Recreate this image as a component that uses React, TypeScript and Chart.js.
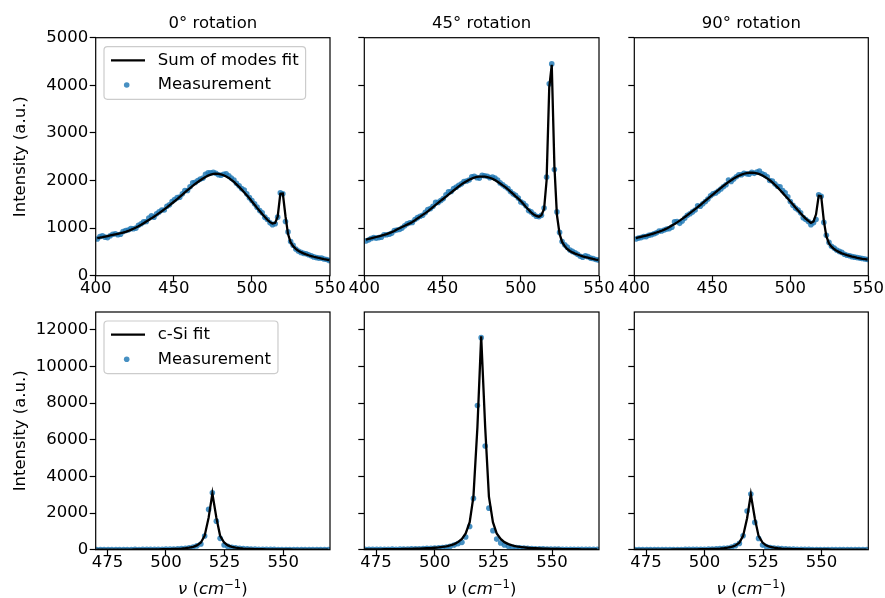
import React, { useEffect, useRef } from 'react';
import { Chart, registerables } from 'chart.js';
Chart.register(...registerables);

// ---------- DATA ----------
const COL_TITLES = ['0° rotation', '45° rotation', '90° rotation'];
const Y_TITLE = 'Intensity (a.u.)';
// x-axis label pieces: [text, italic, superscript]
const X_TITLE_PARTS: [string, boolean, boolean][] = [
  ['ν', true, false],
  [' (', false, false],
  ['cm', true, false],
  ['−1', false, true],
  [')', false, false],
];
const TOP_LEGEND = ['Sum of modes fit', 'Measurement'];
const BOT_LEGEND = ['c-Si fit', 'Measurement'];

const TOP_X_TICKS = [400, 450, 500, 550];
const TOP_Y_TICKS = [0, 1000, 2000, 3000, 4000, 5000];
const BOT_X_TICKS = [475, 500, 525, 550];
const BOT_Y_TICKS = [0, 2000, 4000, 6000, 8000, 10000, 12000];

const X_TOP = [
  401.0, 402.7, 404.3, 406.0, 407.6, 409.3, 410.9, 412.6, 414.2, 415.9,
  417.5, 419.2, 420.8, 422.5, 424.1, 425.8, 427.4, 429.1, 430.7, 432.4,
  434.0, 435.7, 437.3, 439.0, 440.6, 442.3, 443.9, 445.6, 447.2, 448.9,
  450.5, 452.2, 453.8, 455.5, 457.1, 458.8, 460.4, 462.1, 463.7, 465.4,
  467.0, 468.7, 470.3, 472.0, 473.6, 475.3, 476.9, 478.6, 480.2, 481.9,
  483.5, 485.2, 486.8, 488.5, 490.1, 491.8, 493.4, 495.1, 496.7, 498.4,
  500.0, 501.7, 503.3, 505.0, 506.6, 508.3, 509.9, 511.6, 513.2, 514.9,
  516.5, 518.2, 519.8, 521.5, 523.1, 524.8, 526.4, 528.1, 529.7, 531.4,
  533.0, 534.7, 536.3, 538.0, 539.6, 541.3, 542.9, 544.6, 546.2, 547.9,
  549.5,
];

const FIT_TOP_0 = [
  787, 800, 810, 822, 833, 845, 856, 868, 880, 893,
  907, 922, 940, 963, 987, 1012, 1040, 1072, 1104, 1138,
  1170, 1205, 1240, 1277, 1315, 1355, 1393, 1435, 1478, 1522,
  1564, 1610, 1655, 1704, 1750, 1796, 1840, 1886, 1928, 1968,
  2005, 2042, 2075, 2102, 2124, 2138, 2142, 2138, 2128, 2110,
  2086, 2055, 2015, 1970, 1920, 1866, 1810, 1750, 1690, 1625,
  1560, 1492, 1425, 1358, 1295, 1232, 1175, 1125, 1095, 1110,
  1240, 1720, 1725, 1250, 880, 700, 620, 565, 525, 495,
  470, 448, 430, 413, 398, 385, 372, 360, 348, 338,
  328,
];
const MEAS_TOP_0 = [
  770, 820, 840, 810, 800, 840, 870, 880, 860, 870,
  930, 950, 960, 990, 985, 1000, 1060, 1090, 1130, 1140,
  1210, 1260, 1230, 1300, 1340, 1380, 1380, 1460, 1490, 1560,
  1600, 1640, 1650, 1720, 1790, 1790, 1870, 1950, 1960, 2000,
  2030, 2050, 2130, 2160, 2160, 2170, 2150, 2120, 2110, 2130,
  2140, 2100, 2050, 2010, 1940, 1890, 1830, 1800, 1720, 1640,
  1580, 1510, 1440, 1370, 1320, 1230, 1180, 1110, 1070, 1090,
  1230, 1740, 1720, 1140, 920, 720, 640, 560, 520, 490,
  470, 460, 440, 420, 395, 380, 370, 370, 350, 340,
  320,
];

const FIT_TOP_45 = [
  758, 772, 785, 799, 813, 827, 840, 856, 873, 894,
  915, 940, 972, 998, 1023, 1049, 1073, 1099, 1127, 1165,
  1203, 1241, 1277, 1315, 1352, 1398, 1440, 1486, 1529, 1575,
  1617, 1660, 1705, 1748, 1790, 1835, 1878, 1918, 1952, 1985,
  2015, 2040, 2062, 2074, 2080, 2082, 2080, 2072, 2058, 2036,
  2008, 1975, 1938, 1898, 1862, 1816, 1768, 1718, 1668, 1618,
  1568, 1505, 1445, 1385, 1330, 1285, 1255, 1240, 1270, 1400,
  2000, 3950, 4430, 2300, 1280, 880, 710, 620, 560, 520,
  490, 465, 445, 425, 405, 392, 380, 365, 352, 340,
  332,
];
const MEAS_TOP_45 = [
  730, 750, 780, 800, 790, 800, 810, 860, 860, 870,
  890, 950, 960, 970, 1000, 1050, 1090, 1110, 1120, 1180,
  1220, 1250, 1270, 1330, 1390, 1410, 1460, 1540, 1540, 1580,
  1620, 1700, 1760, 1770, 1830, 1860, 1900, 1930, 1980, 1990,
  2010, 2080, 2090, 2060, 2050, 2110, 2100, 2090, 2060, 2070,
  2050, 2010, 1950, 1910, 1870, 1830, 1770, 1720, 1690, 1630,
  1550, 1520, 1470, 1370, 1340, 1290, 1250, 1240, 1270, 1420,
  2070, 4030, 4450, 2230, 1340, 910, 720, 650, 600, 540,
  510, 480, 450, 410, 390, 420, 400, 370, 360, 340,
  330,
];

const FIT_TOP_90 = [
  790, 805, 818, 830, 843, 858, 873, 890, 907, 925,
  945, 968, 993, 1022, 1053, 1087, 1120, 1157, 1193, 1233,
  1272, 1315, 1355, 1398, 1440, 1485, 1530, 1576, 1620, 1665,
  1710, 1756, 1800, 1846, 1888, 1930, 1968, 2005, 2040, 2072,
  2100, 2124, 2142, 2156, 2163, 2165, 2160, 2150, 2134, 2110,
  2080, 2045, 2005, 1960, 1910, 1856, 1800, 1740, 1680, 1620,
  1560, 1495, 1432, 1370, 1310, 1252, 1200, 1150, 1110, 1140,
  1290, 1680, 1670, 1150, 830, 680, 610, 560, 522, 495,
  470, 450, 432, 415, 400, 388, 376, 365, 355, 347,
  338,
];
const MEAS_TOP_90 = [
  770, 790, 800, 820, 820, 850, 860, 880, 900, 940,
  940, 960, 980, 990, 1020, 1130, 1140, 1100, 1150, 1210,
  1270, 1300, 1340, 1380, 1470, 1460, 1510, 1560, 1610, 1680,
  1720, 1740, 1780, 1820, 1870, 1910, 2010, 1980, 2030, 2080,
  2120, 2120, 2150, 2140, 2130, 2170, 2150, 2180, 2200, 2140,
  2120, 2080, 2000, 1990, 1930, 1880, 1870, 1790, 1740, 1660,
  1560, 1480, 1420, 1380, 1320, 1220, 1180, 1140, 1070, 1110,
  1180, 1700, 1670, 1120, 850, 700, 620, 580, 540, 510,
  490, 450, 430, 420, 400, 390, 380, 370, 360, 350,
  340,
];

const X_BOT = [
  470.3, 472.0, 473.6, 475.3, 476.9, 478.6, 480.2, 481.9, 483.5, 485.2,
  486.8, 488.5, 490.1, 491.8, 493.4, 495.1, 496.7, 498.4, 500.0, 501.7,
  503.3, 505.0, 506.6, 508.3, 509.9, 511.6, 513.2, 514.9, 516.5, 518.2,
  519.8, 521.5, 523.1, 524.8, 526.4, 528.1, 529.7, 531.4, 533.0, 534.7,
  536.3, 538.0, 539.6, 541.3, 542.9, 544.6, 546.2, 547.9, 549.5, 551.2,
  552.8, 554.5, 556.1, 557.8, 559.4, 561.1, 562.7, 564.4, 566.0, 567.7,
  569.3,
];

const FIT_BOT_0 = [
  5, 5, 5, 6, 6, 7, 7, 8, 9, 9,
  10, 11, 13, 14, 16, 18, 21, 24, 28, 33,
  40, 49, 62, 81, 109, 155, 235, 394, 764, 1750,
  3070, 1750, 764, 394, 235, 155, 109, 81, 62, 49,
  40, 33, 28, 24, 21, 18, 16, 14, 13, 11,
  10, 9, 9, 8, 7, 7, 6, 6, 5, 5,
  5,
];
const MEAS_BOT_0 = [
  10, 12, 8, 14, 10, 12, 9, 15, 12, 14,
  16, 13, 18, 16, 20, 22, 25, 24, 30, 35,
  38, 50, 60, 75, 100, 150, 210, 310, 745, 2200,
  3110, 1560, 620, 255, 180, 130, 100, 75, 60, 48,
  40, 32, 28, 25, 22, 18, 16, 15, 12, 14,
  10, 12, 9, 11, 8, 10, 9, 7, 10, 8,
  9,
];

const FIT_BOT_45 = [
  17, 18, 20, 21, 23, 25, 27, 29, 32, 35,
  39, 43, 48, 54, 60, 68, 78, 91, 106, 126,
  152, 187, 235, 305, 412, 585, 890, 1500, 2900, 6700,
  11650, 6700, 2900, 1500, 890, 585, 412, 305, 235, 187,
  152, 126, 106, 91, 78, 68, 60, 54, 48, 43,
  39, 35, 32, 29, 27, 25, 23, 21, 20, 18,
  17,
];
const MEAS_BOT_45 = [
  20, 22, 18, 25, 22, 28, 26, 30, 28, 34,
  36, 40, 45, 50, 55, 62, 70, 80, 90, 105,
  120, 150, 190, 250, 330, 400, 690, 1270, 2800, 7870,
  11580, 5660, 2270, 1040, 580, 370, 260, 190, 150, 120,
  100, 85, 72, 62, 55, 48, 44, 40, 36, 32,
  30, 28, 26, 24, 22, 22, 20, 19, 18, 17,
  16,
];

const FIT_BOT_90 = [
  5, 5, 5, 5, 6, 6, 7, 8, 8, 9,
  10, 11, 12, 14, 16, 18, 21, 24, 28, 33,
  39, 48, 61, 80, 107, 153, 231, 388, 752, 1720,
  3020, 1720, 752, 388, 231, 153, 107, 80, 61, 48,
  39, 33, 28, 24, 21, 18, 16, 14, 12, 11,
  10, 9, 8, 8, 7, 6, 6, 5, 5, 5,
  5,
];
const MEAS_BOT_90 = [
  12, 9, 11, 8, 13, 10, 12, 9, 14, 11,
  13, 15, 12, 17, 18, 20, 24, 26, 28, 32,
  40, 46, 58, 72, 95, 140, 220, 345, 764, 2110,
  3040, 1490, 618, 250, 170, 120, 95, 70, 58, 45,
  38, 30, 27, 24, 20, 18, 15, 14, 12, 11,
  13, 9, 10, 8, 11, 9, 8, 10, 7, 9,
  8,
];

// ---------- STYLE / LAYOUT ----------
const W = 885;
const H = 598;
const FONT = '"DejaVu Sans", sans-serif';
const FS = 16.5;
const DOT = 'rgba(31,119,180,0.82)';
const DOT_R = 2.8;
const LINE_W = 2.3;
const COL_L = [95.7, 364.3, 634.3];
const COL_R = [330, 599, 868.3];
const ROW_T = [37.7, 312];
const ROW_B = [275.7, 549.7];

type PanelCfg = {
  row: number;
  col: number;
  x: number[];
  fit: number[];
  meas: number[];
  xMin: number;
  xMax: number;
  yMax: number;
  xTicks: number[];
  yTicks: number[];
  title?: string;
  legend?: string[];
};

const PANELS: PanelCfg[] = [
  { row: 0, col: 0, x: X_TOP, fit: FIT_TOP_0, meas: MEAS_TOP_0, xMin: 400, xMax: 550, yMax: 5000, xTicks: TOP_X_TICKS, yTicks: TOP_Y_TICKS, title: COL_TITLES[0], legend: TOP_LEGEND },
  { row: 0, col: 1, x: X_TOP, fit: FIT_TOP_45, meas: MEAS_TOP_45, xMin: 400, xMax: 550, yMax: 5000, xTicks: TOP_X_TICKS, yTicks: TOP_Y_TICKS, title: COL_TITLES[1] },
  { row: 0, col: 2, x: X_TOP, fit: FIT_TOP_90, meas: MEAS_TOP_90, xMin: 400, xMax: 550, yMax: 5000, xTicks: TOP_X_TICKS, yTicks: TOP_Y_TICKS, title: COL_TITLES[2] },
  { row: 1, col: 0, x: X_BOT, fit: FIT_BOT_0, meas: MEAS_BOT_0, xMin: 470, xMax: 570, yMax: 12980, xTicks: BOT_X_TICKS, yTicks: BOT_Y_TICKS, legend: BOT_LEGEND },
  { row: 1, col: 1, x: X_BOT, fit: FIT_BOT_45, meas: MEAS_BOT_45, xMin: 470, xMax: 570, yMax: 12980, xTicks: BOT_X_TICKS, yTicks: BOT_Y_TICKS },
  { row: 1, col: 2, x: X_BOT, fit: FIT_BOT_90, meas: MEAS_BOT_90, xMin: 470, xMax: 570, yMax: 12980, xTicks: BOT_X_TICKS, yTicks: BOT_Y_TICKS },
];

function roundRect(ctx: CanvasRenderingContext2D, x: number, y: number, w: number, h: number, r: number) {
  ctx.beginPath();
  ctx.moveTo(x + r, y);
  ctx.lineTo(x + w - r, y);
  ctx.arcTo(x + w, y, x + w, y + r, r);
  ctx.lineTo(x + w, y + h - r);
  ctx.arcTo(x + w, y + h, x + w - r, y + h, r);
  ctx.lineTo(x + r, y + h);
  ctx.arcTo(x, y + h, x, y + h - r, r);
  ctx.lineTo(x, y + r);
  ctx.arcTo(x, y, x + r, y, r);
  ctx.closePath();
}

function partFont(italic: boolean, sup: boolean) {
  const size = sup ? FS * 0.7 : FS;
  return `${italic ? 'italic ' : ''}${size}px ${FONT}`;
}

function makeDecor(p: PanelCfg) {
  return {
    id: 'decor',
    afterDraw(chart: any) {
      const { ctx, chartArea: a } = chart;
      ctx.save();
      ctx.strokeStyle = '#000';
      ctx.lineWidth = 1.2;
      ctx.strokeRect(a.left, a.top, a.right - a.left, a.bottom - a.top);
      ctx.font = `${FS}px ${FONT}`;
      ctx.fillStyle = '#000';
      if (p.title) {
        ctx.textAlign = 'center';
        ctx.textBaseline = 'middle';
        ctx.fillText(p.title, (a.left + a.right) / 2, a.top - 14);
      }
      if (p.row === 1) {
        // x-axis label with mixed styles
        ctx.textAlign = 'left';
        ctx.textBaseline = 'alphabetic';
        const widths = X_TITLE_PARTS.map(([t, it, sup]) => {
          ctx.font = partFont(it, sup);
          return ctx.measureText(t).width;
        });
        const total = widths.reduce((s, v) => s + v, 0);
        let x = (a.left + a.right) / 2 - total / 2;
        const base = a.bottom + 44.5;
        X_TITLE_PARTS.forEach(([t, it, sup], i) => {
          ctx.font = partFont(it, sup);
          ctx.fillText(t, x, sup ? base - 6.5 : base);
          x += widths[i];
        });
      }
      if (p.legend) {
        ctx.font = `${FS}px ${FONT}`;
        const bx = a.left + 8.3;
        const by = a.top + 9;
        const tw = Math.max(...p.legend.map((t) => ctx.measureText(t).width));
        const bw = 53.7 + tw + 7;
        const bh = 52.6;
        roundRect(ctx, bx, by, bw, bh, 3.5);
        ctx.fillStyle = 'rgba(255,255,255,0.8)';
        ctx.fill();
        ctx.strokeStyle = '#cccccc';
        ctx.lineWidth = 1.2;
        ctx.stroke();
        const y1 = by + 13.6;
        const y2 = by + 38.3;
        ctx.strokeStyle = '#000';
        ctx.lineWidth = LINE_W;
        ctx.beginPath();
        ctx.moveTo(bx + 7, y1);
        ctx.lineTo(bx + 41, y1);
        ctx.stroke();
        ctx.fillStyle = DOT;
        ctx.beginPath();
        ctx.arc(bx + 22.7, y2, DOT_R, 0, Math.PI * 2);
        ctx.fill();
        ctx.fillStyle = '#000';
        ctx.textAlign = 'left';
        ctx.textBaseline = 'middle';
        ctx.fillText(p.legend[0], bx + 53.7, y1);
        ctx.fillText(p.legend[1], bx + 53.7, y2);
      }
      ctx.restore();
    },
  };
}

function Panel({ p }: { p: PanelCfg }) {
  const ref = useRef<HTMLCanvasElement>(null);
  useEffect(() => {
    const left = COL_L[p.col];
    const right = COL_R[p.col];
    const top = ROW_T[p.row];
    const bottom = ROW_B[p.row];
    const yW = p.col === 0 ? left : 20;
    const xH = p.row === 0 ? 30 : H - bottom;
    const tickFont = { family: FONT, size: FS, lineHeight: 1.2 };
    const chart = new Chart(ref.current as HTMLCanvasElement, {
      type: 'scatter',
      data: {
        datasets: [
          {
            label: p.legend ? p.legend[0] : 'fit',
            data: p.x.map((x, i) => ({ x, y: p.fit[i] })),
            showLine: true,
            borderColor: '#000',
            borderWidth: LINE_W,
            pointRadius: 0,
            tension: 0,
            fill: false,
            clip: 0,
          } as any,
          {
            label: 'Measurement',
            data: p.x.map((x, i) => ({ x, y: p.meas[i] })),
            showLine: false,
            pointRadius: DOT_R,
            pointBorderWidth: 0,
            backgroundColor: DOT,
            borderColor: DOT,
            clip: 0,
          } as any,
        ],
      },
      options: {
        responsive: false,
        animation: false,
        devicePixelRatio: 1,
        events: [],
        layout: {
          padding: {
            left: left - yW,
            right: W - right,
            top: top,
            bottom: H - bottom - xH,
          },
        },
        plugins: {
          legend: { display: false },
          tooltip: { enabled: false },
          title: { display: false },
        },
        scales: {
          x: {
            type: 'linear',
            min: p.xMin,
            max: p.xMax,
            afterBuildTicks: (s: any) => {
              s.ticks = p.xTicks.map((v) => ({ value: v }));
            },
            afterFit: (s: any) => {
              s.height = xH;
            },
            grid: {
              display: true,
              drawOnChartArea: false,
              drawTicks: true,
              tickLength: 6,
              tickColor: '#000',
              tickWidth: 1.2,
              color: '#000',
            },
            border: { display: false },
            ticks: {
              color: '#000',
              font: tickFont,
              padding: -3.3,
              maxRotation: 0,
              autoSkip: false,
              callback: (v: any) => String(v),
            },
            title: { display: false },
          },
          y: {
            type: 'linear',
            min: 0,
            max: p.yMax,
            afterBuildTicks: (s: any) => {
              s.ticks = p.yTicks.map((v) => ({ value: v }));
            },
            afterFit: (s: any) => {
              s.width = yW;
            },
            grid: {
              display: true,
              drawOnChartArea: false,
              drawTicks: true,
              tickLength: 6,
              tickColor: '#000',
              tickWidth: 1.2,
              color: '#000',
            },
            border: { display: false },
            ticks: {
              display: p.col === 0,
              color: '#000',
              font: tickFont,
              padding: 1.4,
              autoSkip: false,
              callback: (v: any) => String(v),
            },
            title: {
              display: p.col === 0,
              text: Y_TITLE,
              color: '#000',
              font: { family: FONT, size: FS, lineHeight: 1 },
              padding: { top: 12.4, bottom: 0 },
            },
          },
        },
      } as any,
      plugins: [makeDecor(p)],
    });
    return () => chart.destroy();
  }, [p]);
  return (
    <canvas
      ref={ref}
      width={W}
      height={H}
      style={{ position: 'absolute', left: 0, top: 0, width: W, height: H }}
    />
  );
}

export default function App() {
  return (
    <div
      style={{
        position: 'absolute',
        left: 0,
        top: 0,
        width: W,
        height: H,
        background: '#fff',
        overflow: 'hidden',
      }}
    >
      {PANELS.map((p, i) => (
        <Panel key={i} p={p} />
      ))}
    </div>
  );
}
